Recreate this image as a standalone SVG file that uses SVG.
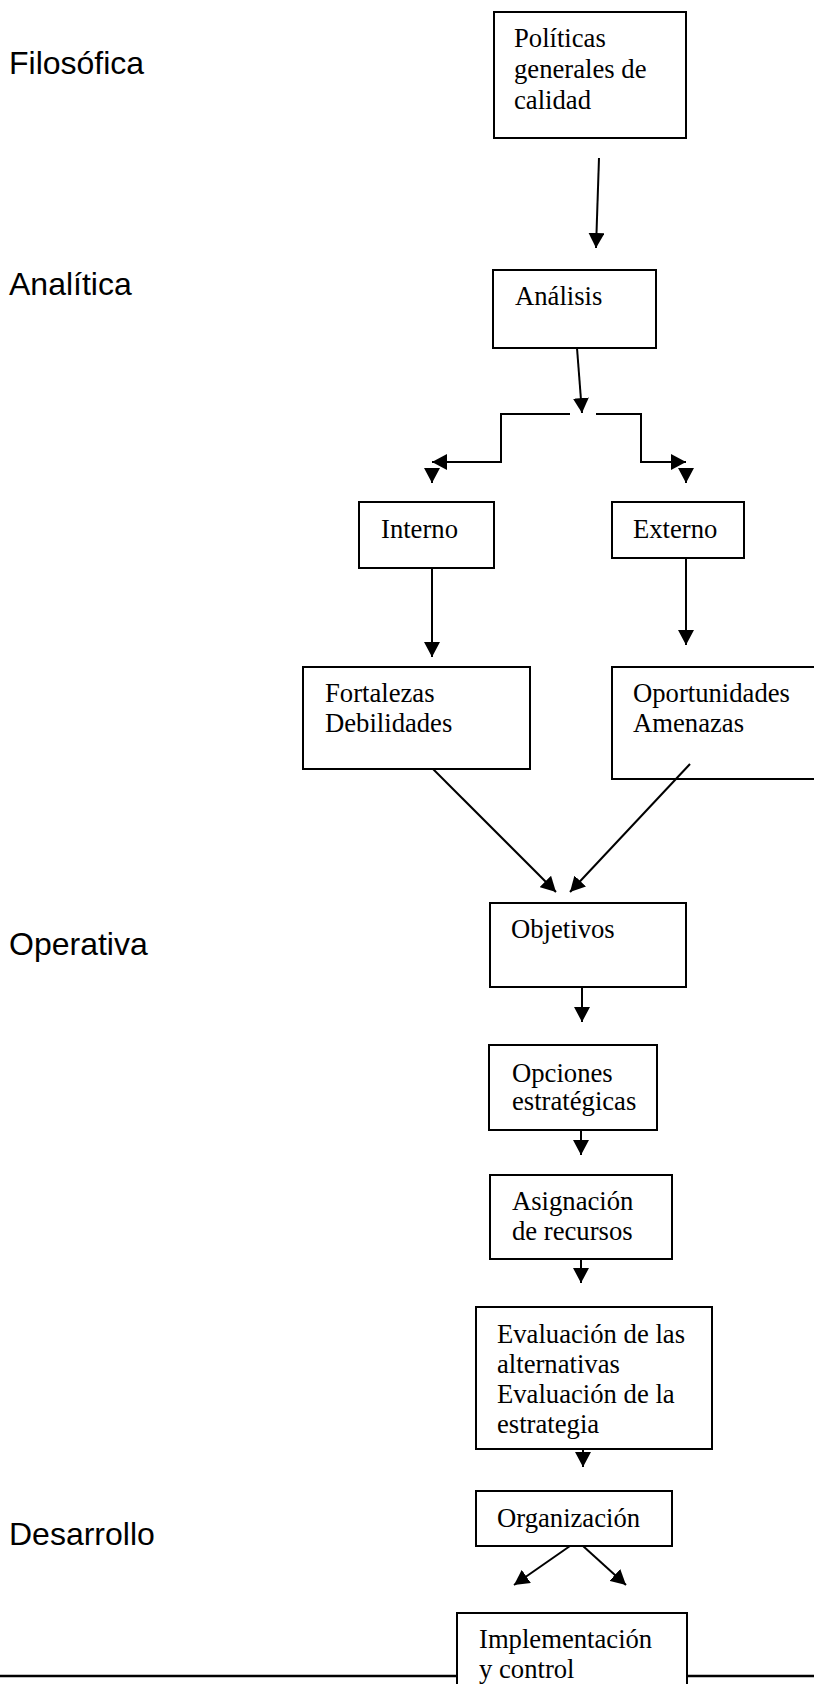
<svg xmlns="http://www.w3.org/2000/svg" width="814" height="1684" viewBox="0 0 814 1684">
  <style>
    .box { fill: #ffffff; stroke: #000000; stroke-width: 2; }
    .t { font-family: "Liberation Serif", "Times New Roman", serif; font-size: 26.67px; fill: #000000; }
    .lvl { font-family: "Liberation Sans", Arial, sans-serif; font-size: 32px; fill: #000000; }
    .c { fill: none; stroke: #000000; stroke-width: 2; }
  </style>
  <defs>
    <marker id="ah" markerUnits="userSpaceOnUse" markerWidth="16" markerHeight="16" refX="15" refY="8" orient="auto" viewBox="0 0 16 16">
      <path d="M0,0 L15,8 L0,16 z" fill="#000000"/>
    </marker>
  </defs>

  <rect width="814" height="1684" fill="#ffffff"/>

  <!-- stage labels -->
  <g id="levels">
    <text class="lvl" x="9" y="74">Filosófica</text>
    <text class="lvl" x="9" y="295">Analítica</text>
    <text class="lvl" x="9" y="955">Operativa</text>
    <text class="lvl" x="9" y="1545">Desarrollo</text>
  </g>

  <!-- baseline rule -->
  <g id="rule">
    <line x1="0" y1="1676" x2="457" y2="1676" stroke="#000" stroke-width="2.5"/>
    <line x1="687" y1="1676" x2="814" y2="1676" stroke="#000" stroke-width="2.5"/>
  </g>

  <g id="politicas">
    <rect class="box" x="494" y="12" width="192" height="126"/>
    <text class="t" x="514" y="47">Políticas</text>
    <text class="t" x="514" y="78">generales de</text>
    <text class="t" x="514" y="109">calidad</text>
  </g>

  <g id="analisis">
    <rect class="box" x="493" y="270" width="163" height="78"/>
    <text class="t" x="515" y="305">Análisis</text>
  </g>

  <g id="interno">
    <rect class="box" x="359" y="502" width="135" height="66"/>
    <text class="t" x="381" y="538">Interno</text>
  </g>

  <g id="externo">
    <rect class="box" x="612" y="502" width="132" height="56"/>
    <text class="t" x="633" y="538">Externo</text>
  </g>

  <g id="fortalezas">
    <rect class="box" x="303" y="667" width="227" height="102"/>
    <text class="t" x="325" y="702">Fortalezas</text>
    <text class="t" x="325" y="732">Debilidades</text>
  </g>

  <g id="oportunidades">
    <rect class="box" x="612" y="667" width="210" height="112"/>
    <text class="t" x="633" y="702">Oportunidades</text>
    <text class="t" x="633" y="732">Amenazas</text>
  </g>

  <g id="objetivos">
    <rect class="box" x="490" y="903" width="196" height="84"/>
    <text class="t" x="511" y="938">Objetivos</text>
  </g>

  <g id="opciones">
    <rect class="box" x="489" y="1045" width="168" height="85"/>
    <text class="t" x="512" y="1082">Opciones</text>
    <text class="t" x="512" y="1110">estratégicas</text>
  </g>

  <g id="asignacion">
    <rect class="box" x="490" y="1175" width="182" height="84"/>
    <text class="t" x="512" y="1210">Asignación</text>
    <text class="t" x="512" y="1240">de recursos</text>
  </g>

  <g id="evaluacion">
    <rect class="box" x="476" y="1307" width="236" height="142"/>
    <text class="t" x="497" y="1343">Evaluación de las</text>
    <text class="t" x="497" y="1373">alternativas</text>
    <text class="t" x="497" y="1403">Evaluación de la</text>
    <text class="t" x="497" y="1433">estrategia</text>
  </g>

  <g id="organizacion">
    <rect class="box" x="476" y="1491" width="196" height="55"/>
    <text class="t" x="497" y="1527">Organización</text>
  </g>

  <g id="implementacion">
    <rect class="box" x="457" y="1613" width="230" height="100"/>
    <text class="t" x="479" y="1648">Implementación</text>
    <text class="t" x="479" y="1678">y control</text>
  </g>

  <g id="connectors">
    <line class="c" x1="599" y1="158" x2="596" y2="248" marker-end="url(#ah)"/>
    <line class="c" x1="577" y1="348" x2="582" y2="413" marker-end="url(#ah)"/>
    <polyline class="c" points="570,414 501,414 501,462 432,462" marker-end="url(#ah)"/>
    <polyline class="c" points="596,414 641,414 641,462 686,462" marker-end="url(#ah)"/>
    <line class="c" x1="432" y1="468" x2="432" y2="483" marker-end="url(#ah)"/>
    <line class="c" x1="686" y1="468" x2="686" y2="483" marker-end="url(#ah)"/>
    <line class="c" x1="432" y1="568" x2="432" y2="657" marker-end="url(#ah)"/>
    <line class="c" x1="686" y1="558" x2="686" y2="645" marker-end="url(#ah)"/>
    <line class="c" x1="433" y1="769" x2="556" y2="892" marker-end="url(#ah)"/>
    <line class="c" x1="690" y1="764" x2="570" y2="892" marker-end="url(#ah)"/>
    <line class="c" x1="582" y1="987" x2="582" y2="1022" marker-end="url(#ah)"/>
    <line class="c" x1="581" y1="1130" x2="581" y2="1155" marker-end="url(#ah)"/>
    <line class="c" x1="581" y1="1259" x2="581" y2="1283" marker-end="url(#ah)"/>
    <line class="c" x1="583" y1="1449" x2="583" y2="1467" marker-end="url(#ah)"/>
    <line class="c" x1="570" y1="1546" x2="514" y2="1585" marker-end="url(#ah)"/>
    <line class="c" x1="583" y1="1546" x2="626" y2="1585" marker-end="url(#ah)"/>
  </g>
</svg>
